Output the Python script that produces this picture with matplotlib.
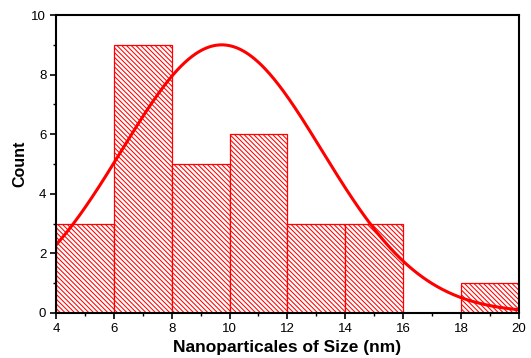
import numpy as np
import matplotlib
matplotlib.use("Agg")
import matplotlib.pyplot as plt
from matplotlib.ticker import MultipleLocator

plt.rcParams['font.family'] = ['Liberation Sans', 'DejaVu Sans']
plt.rcParams['hatch.linewidth'] = 0.75
plt.rcParams['hatch.color'] = 'red'

bin_edges = [4, 6, 8, 10, 12, 14, 16, 18, 20]
counts = [3, 9, 5, 6, 3, 3, 0, 1]

# Gaussian fit parameters
fit_center = 9.73
fit_sigma = 3.46
fit_amp = 9.0

fig = plt.figure(figsize=(5.31, 3.58), dpi=100)
ax = fig.add_axes([0.1055, 0.1257, 0.8715, 0.8323])

lefts = bin_edges[:-1]
widths = np.diff(bin_edges)
for l, w, c in zip(lefts, widths, counts):
    if c > 0:
        ax.bar(l, c, width=w, align='edge', facecolor='white', edgecolor='red',
               hatch='\\' * 7, linewidth=0.9)

xs = np.linspace(4, 20, 400)
ys = fit_amp * np.exp(-(xs - fit_center) ** 2 / (2 * fit_sigma ** 2))
ax.plot(xs, ys, color='red', linewidth=2.2, clip_on=True)

ax.set_xlim(4, 20)
ax.set_ylim(0, 10)
ax.xaxis.set_major_locator(MultipleLocator(2))
ax.xaxis.set_minor_locator(MultipleLocator(1))
ax.yaxis.set_major_locator(MultipleLocator(2))
ax.yaxis.set_minor_locator(MultipleLocator(1))
ax.tick_params(which='major', direction='out', length=4, width=1.2, labelsize=9.5, pad=3)
ax.tick_params(which='minor', direction='out', length=2, width=1.0)
for s in ax.spines.values():
    s.set_linewidth(1.5)

ax.set_xlabel('Nanoparticales of Size (nm)', fontsize=12.5, fontweight='bold', labelpad=4)
ax.set_ylabel('Count', fontsize=11.5, fontweight='bold', labelpad=3)

fig.savefig('out.png', dpi=100)
